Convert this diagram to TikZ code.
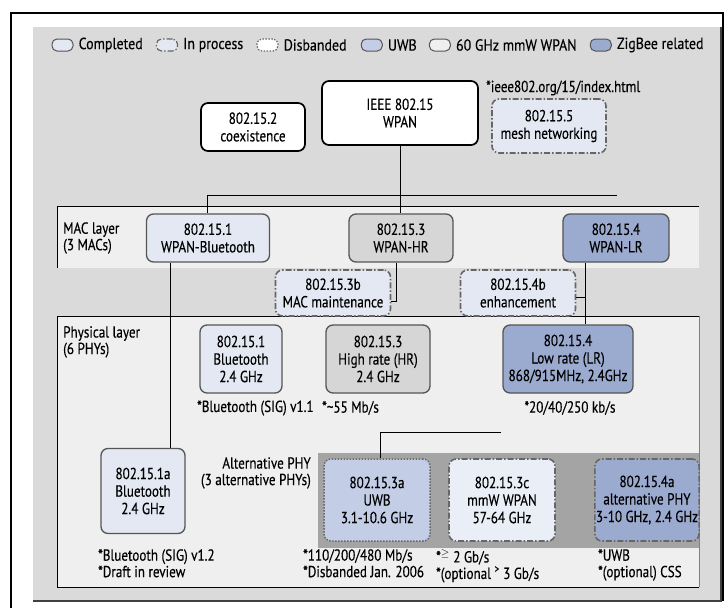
\documentclass[tikz,border=0pt]{standalone}
\usepackage{fontspec}
\setmainfont{PT Sans}[FakeStretch=0.82,FakeBold=0.3]
\newfontfamily\lgfont{PT Sans}[FakeStretch=0.87,FakeBold=0.3]
\usetikzlibrary{positioning}
\definecolor{cPanel}{HTML}{DADADA}
\definecolor{cBand}{HTML}{EFEFEF}
\definecolor{cDark}{HTML}{A4A4A4}
\definecolor{cDone}{HTML}{E3E8F2}
\definecolor{cHR}{HTML}{D6D6D6}
\definecolor{cZig}{HTML}{9BAACF}
\definecolor{cUWB}{HTML}{C3CEE6}
\definecolor{cMmw}{HTML}{EAEFF7}
\definecolor{cEdge}{HTML}{555555}
\definecolor{cDash}{HTML}{666666}
\tikzset{
  box/.style={draw=cEdge, line width=1.3pt, rounded corners=7pt, align=center, inner sep=1pt, font=\fontsize{16}{17.5}\selectfont},
  topbox/.style={box, draw=black, line width=1.7pt, fill=white},
  inproc/.style={draw=cDash, line width=1.6pt, dash pattern=on 6pt off 2pt on 1.5pt off 2pt},
  disb/.style={draw=cDash, line width=1.5pt, dash pattern=on 1.5pt off 1.5pt},
  lg/.style={draw=cEdge, line width=1pt, rounded corners=5pt, minimum width=21pt, minimum height=12pt, inner sep=0pt},
  lgtext/.style={inner sep=0pt, font=\lgfont\fontsize{16}{17.5}\selectfont},
  note/.style={inner sep=0pt, align=left, font=\fontsize{16}{16.5}\selectfont},
  conn/.style={draw=black, line width=0.9pt}
}
\begin{document}
\begin{tikzpicture}[x=1pt,y=-1pt]
\useasboundingbox (0,0) rectangle (728,608);
\fill[white] (0,0) rectangle (728,608);
% outer panels
\fill[cPanel] (33,27) rectangle (721,601);
\draw[line width=1.3pt, black!75] (33,601) -- (721,601) -- (721,27);
\draw[line width=2pt] (11,608) -- (11,13) -- (723,13) -- (723,601);
% MAC band
\fill[cBand] (57,206) rectangle (699,268);
\draw[line width=0.9pt] (699,206) -- (57,206) -- (57,268);
% PHY panel
\fill[cBand] (57,316) rectangle (699,587);
\draw[line width=0.9pt] (699,316) -- (57,316) -- (57,587) -- (699,587);
\draw[line width=0.6pt, black!50] (699,316) -- (699,587);
% alternative PHY band
\fill[cDark] (318,453) rectangle (699,548);

% legend
\node[lg, fill=cDone] (l1) at (62.5,45) {};
\node[lgtext, right=5pt of l1] (t1) {Completed};
\node[lg, inproc, line width=1.2pt, fill=cDone, right=13pt of t1] (l2) {};
\node[lgtext, right=5pt of l2] (t2) {In process};
\node[lg, disb, line width=1.2pt, fill=white, right=13pt of t2] (l3) {};
\node[lgtext, right=5pt of l3] (t3) {Disbanded};
\node[lg, fill=cUWB, right=14pt of t3] (l4) {};
\node[lgtext, right=5pt of l4] (t4) {UWB};
\node[lg, fill=cBand, right=12pt of t4] (l5) {};
\node[lgtext, right=5pt of l5] (t5) {60 GHz mmW WPAN};
\node[lg, fill=cZig, right=13pt of t5] (l6) {};
\node[lgtext, right=5pt of l6] (t6) {ZigBee related};

% top level
\node[topbox, minimum width=156pt, minimum height=64pt] (ieee) at (400,113) {IEEE 802.15\\WPAN};
\node[topbox, minimum width=104pt, minimum height=48pt] (coex) at (253,127) {802.15.2\\coexistence};
\node[box, inproc, fill=cDone, minimum width=114pt, minimum height=54pt] (mesh) at (549,126) {802.15.5\\mesh networking};
\node[note, anchor=west] (url) at (486,88) {*ieee802.org/15/index.html};

% MAC layer
\node[note, anchor=west] (maclbl) at (63,238) {MAC layer\\(3 MACs)};
\node[box, fill=cDone, minimum width=123pt, minimum height=48pt] (wpanbt) at (208,238) {802.15.1\\WPAN-Bluetooth};
\node[box, fill=cHR, minimum width=104pt, minimum height=48pt] (wpanhr) at (401,238) {802.15.3\\WPAN-HR};
\node[box, fill=cZig, minimum width=106pt, minimum height=48pt] (wpanlr) at (616,238) {802.15.4\\WPAN-LR};
\node[box, inproc, fill=cDone, minimum width=115pt, minimum height=46pt] (mac3b) at (333,293) {802.15.3b\\MAC maintenance};
\node[box, inproc, fill=cDone, minimum width=115pt, minimum height=46pt] (mac4b) at (518,293) {802.15.4b\\enhancement};

% PHY layer
\node[note, anchor=north west] (phylbl) at (63,326) {Physical layer\\(6 PHYs)};
\node[box, fill=cDone, minimum width=82pt, minimum height=68pt] (phybt) at (241,359) {802.15.1\\Bluetooth\\2.4 GHz};
\node[box, fill=cHR, minimum width=104pt, minimum height=68pt] (phyhr) at (378,359) {802.15.3\\High rate (HR)\\2.4 GHz};
\node[box, fill=cZig, minimum width=130pt, minimum height=68pt] (phylr) at (568,359) {802.15.4\\Low rate (LR)\\868/915MHz, 2.4GHz};
\node[note, anchor=west] (nbt) at (197,408) {*Bluetooth (SIG) v1.1};
\node[note, anchor=west] (nhr) at (322,408) {*\textasciitilde55 Mb/s};
\node[note] (nlr) at (570,408) {*20/40/250 kb/s};

% alternative PHYs
\node[box, fill=cDone, minimum width=84pt, minimum height=85pt] (bt1a) at (143,491) {802.15.1a\\Bluetooth\\2.4 GHz};
\node[note, align=right, anchor=north east] (altlbl) at (311,457) {Alternative PHY\\(3 alternative PHYs)};
\node[box, disb, fill=cUWB, minimum width=106pt, minimum height=82pt] (uwb3a) at (377,500) {802.15.3a\\UWB\\3.1-10.6 GHz};
\node[box, inproc, fill=cMmw, minimum width=106pt, minimum height=82pt] (mmw3c) at (502,500) {802.15.3c\\mmW WPAN\\57-64 GHz};
\node[box, inproc, fill=cZig, minimum width=101pt, minimum height=82pt] (alt4a) at (647,500) {802.15.4a\\alternative PHY\\3-10 GHz, 2.4 GHz};
\node[note, anchor=north west] (n1a) at (98,549) {*Bluetooth (SIG) v1.2\\*Draft in review};
\node[note, anchor=north west] (n3a) at (303,549) {*110/200/480 Mb/s\\*Disbanded Jan. 2006};
\node[note, anchor=north west] (n3c) at (436,549) {*\textsuperscript{$\geq$} 2 Gb/s\\*(optional \textsuperscript{>} 3 Gb/s};
\node[note, anchor=north west] (n4a) at (598,549) {*UWB\\*(optional) CSS};

% connectors
\draw[conn] (ieee.south) -- (ieee.south |- wpanhr.north);
\coordinate (hl) at (207,195);
\coordinate (hr) at (617,195);
\draw[conn] (hr) -- (hl) -- (hl |- wpanbt.north);
\coordinate (btx) at ([xshift=-38pt]wpanbt.south);
\draw[conn] (btx) -- (btx |- bt1a.north);
\coordinate (hrx) at ([xshift=-5pt]wpanhr.south);
\draw[conn] (hrx) |- ([yshift=-8pt]mac3b.east);
\coordinate (lrx) at ([xshift=-31pt]wpanlr.south);
\draw[conn] (lrx) -- (lrx |- phylr.north);
\draw[conn] ([yshift=-4pt]mac4b.east) -- ([yshift=-4pt]mac4b.east -| lrx);
\coordinate (altR) at (501,432);
\coordinate (altL) at (380,432);
\draw[conn] (altR) -- (altL) -- (altL |- uwb3a.north);
\end{tikzpicture}
\end{document}
